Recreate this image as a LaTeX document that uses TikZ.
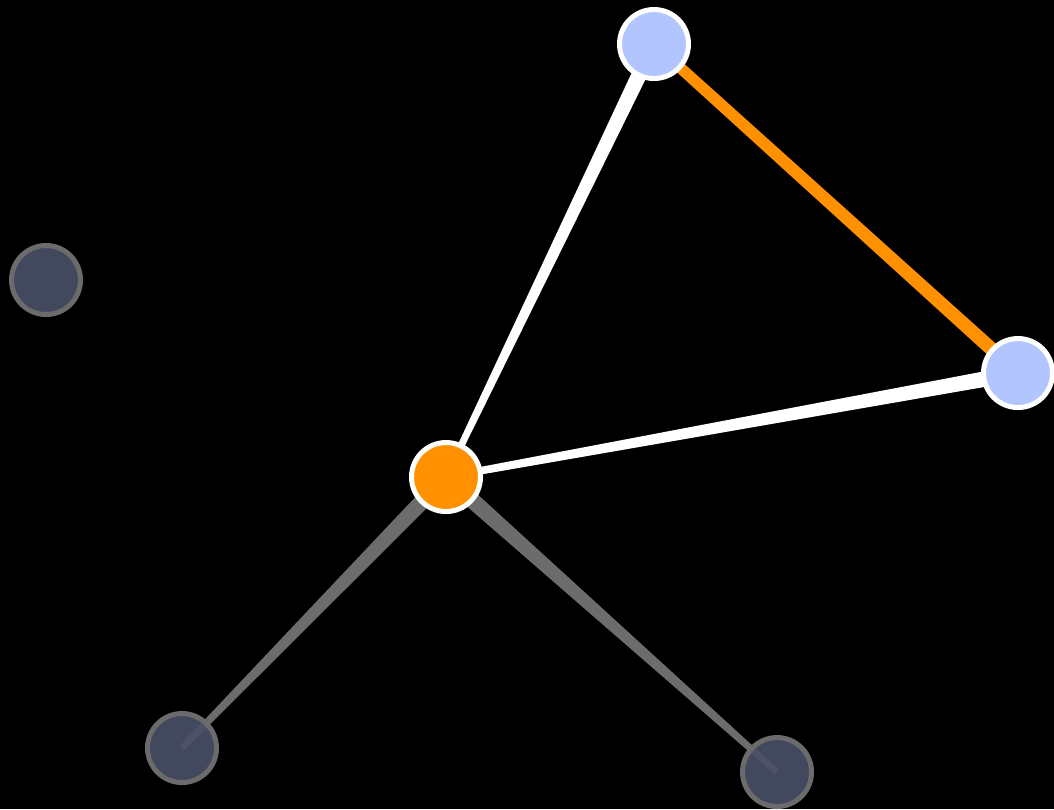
\documentclass[tikz,border=0pt]{standalone}
\usetikzlibrary{calc}

\definecolor{hubfill}{HTML}{FF9100}
\definecolor{nearfill}{HTML}{B3C5FF}
\definecolor{farfill}{HTML}{4A5068}
\definecolor{farrim}{HTML}{6B6B6B}
\definecolor{edgegrey}{HTML}{6C6C6C}

\pgfdeclarelayer{bg}
\pgfdeclarelayer{edges}
\pgfsetlayers{bg,edges,main}

\tikzset{
  vert/.style={circle,minimum size=6.9mm,inner sep=0pt,line width=0.5mm},
  hubvert/.style={vert,fill=hubfill,draw=white},
  nearvert/.style={vert,fill=nearfill,draw=white},
  farvert/.style={vert,fill=farfill,draw=farrim,fill opacity=0.9},
}

% tapered brush stroke: from, to, half width at from, half width at to, colour
\newcommand\brush[5]{%
  \fill[#5] ($(#1)!#3!90:(#2)$) -- ($(#2)!#4!-90:(#1)$)
    -- ($(#2)!#4!90:(#1)$) -- ($(#1)!#3!-90:(#2)$) -- cycle;}

\begin{document}
\begin{tikzpicture}[x=0.1mm,y=-0.1mm]

% black canvas
\begin{pgfonlayer}{bg}
\fill[black] (0,0) rectangle (1054,809);
\end{pgfonlayer}
\useasboundingbox (0,0) rectangle (1054,809);

% vertices
\node[hubvert]  (hub)   at (446,477) {};
\node[nearvert] (top)   at (654,44)  {};
\node[nearvert] (right) at (1018,373) {};
\node[farvert]  (left)  at (46,280)  {};
\node[farvert]  (botl)  at (182,748) {};
\node[farvert]  (botr)  at (777,772) {};

% edges
\begin{pgfonlayer}{edges}
\brush{hub}{top}{0.3mm}{0.8mm}{white}
\brush{hub}{right}{0.35mm}{0.8mm}{white}
\brush{top}{right}{0.55mm}{0.7mm}{hubfill}
\brush{hub}{botl}{0.85mm}{0.3mm}{edgegrey}
\brush{hub}{botr}{0.85mm}{0.3mm}{edgegrey}
\end{pgfonlayer}

\end{tikzpicture}
\end{document}
